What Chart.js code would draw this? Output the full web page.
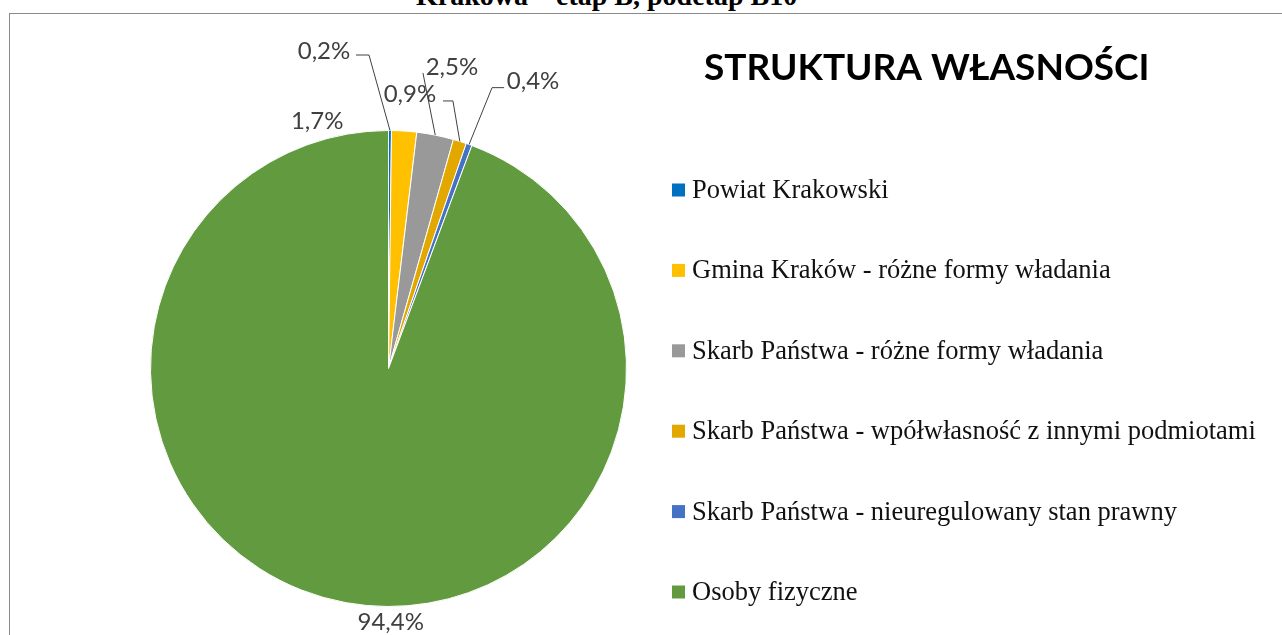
<!DOCTYPE html>
<html lang="pl">
<head>
<meta charset="utf-8">
<title>Struktura własności</title>
<script src="https://cdn.jsdelivr.net/npm/chart.js@4.4.1/dist/chart.umd.min.js"></script>
<style>
  html, body { margin: 0; padding: 0; background: #fff; overflow: hidden; }
  .page { position: relative; width: 1282px; height: 635px; overflow: hidden; }
  .header { position: absolute; left: 416px; top: -18px; font: bold 28px/28px "Liberation Serif", serif; white-space: pre; color: #000; }
  .frame { position: absolute; left: 9px; top: 13px; width: 1400px; height: 700px; border-left: 1px solid #8a8a8a; border-top: 1px solid #8a8a8a; }
  canvas { position: absolute; left: 0; top: 0; }
</style>
</head>
<body>
<div class="page">
  <div class="header">Krakowa – etap B, podetap B10</div>
  <div class="frame"></div>
  <canvas id="chart" width="1282" height="635"></canvas>
</div>
<script>
const chartTitle = 'STRUKTURA WŁASNOŚCI';
const categories = [
  'Powiat Krakowski',
  'Gmina Kraków - różne formy władania',
  'Skarb Państwa - różne formy władania',
  'Skarb Państwa - wpółwłasność z innymi podmiotami',
  'Skarb Państwa - nieuregulowany stan prawny',
  'Osoby fizyczne'
];
const shares = [0.2, 1.7, 2.5, 0.9, 0.4, 94.4];
const colors = ['#0070c0', '#ffc000', '#999999', '#e2a800', '#4472c4', '#629b3f'];

const shareLabels = shares.map(v => v.toFixed(1).replace('.', ',') + '%');

// where each percentage label sits, relative to the outer edge of its slice
const labelPlacement = [
  { dx: -66, dy: -79.5, leader: [[-34, -75.5], [-21, -75.5]] },
  { dx: -87, dy: -10, leader: null },
  { dx: 16.7, dy: -68.2, leader: [[-12.3, -62.2]] },
  { dx: -49.9, dy: -47.5, leader: [[-16.9, -40.5], [-6.9, -40.5]] },
  { dx: 64, dy: -62.9, leader: [[35, -56.9], [23, -56.9]] },
  { dx: 44.6, dy: 19.4, leader: null }
];

const pieLabels = {
  id: 'pieLabels',
  afterDatasetsDraw(chart) {
    const { ctx } = chart;
    const arcs = chart.getDatasetMeta(0).data;
    ctx.save();
    ctx.font = '24px Lato';
    ctx.fillStyle = '#404040';
    ctx.strokeStyle = '#404040';
    ctx.lineWidth = 1;
    ctx.textAlign = 'center';
    ctx.textBaseline = 'middle';
    arcs.forEach((arc, i) => {
      const { x, y, startAngle, endAngle, outerRadius } =
        arc.getProps(['x', 'y', 'startAngle', 'endAngle', 'outerRadius'], true);
      const mid = (startAngle + endAngle) / 2;
      const ax = x + Math.cos(mid) * outerRadius;
      const ay = y + Math.sin(mid) * outerRadius;
      const p = labelPlacement[i];
      if (p.leader) {
        ctx.beginPath();
        ctx.moveTo(ax + p.leader[0][0], ay + p.leader[0][1]);
        p.leader.slice(1).forEach(pt => ctx.lineTo(ax + pt[0], ay + pt[1]));
        ctx.lineTo(ax, ay);
        ctx.stroke();
      }
      ctx.fillText(shareLabels[i], ax + p.dx, ay + p.dy);
    });
    ctx.restore();
  }
};

const sideLegend = {
  id: 'sideLegend',
  afterDraw(chart) {
    const { ctx } = chart;
    const bg = chart.data.datasets[0].backgroundColor;
    ctx.save();
    ctx.textAlign = 'left';
    ctx.textBaseline = 'middle';
    ctx.fillStyle = '#000';
    ctx.font = 'bold 37px Lato';
    ctx.fillText(chartTitle, 704, 68);
    ctx.font = '26.5px "Liberation Serif"';
    chart.data.labels.forEach((label, i) => {
      const y = 190 + i * 80.4;
      ctx.fillStyle = bg[i];
      ctx.fillRect(672, y - 6.5, 13, 13);
      ctx.fillStyle = '#111';
      ctx.fillText(label, 692, y + 1);
    });
    ctx.restore();
  }
};

new Chart(document.getElementById('chart'), {
  type: 'pie',
  data: {
    labels: categories,
    datasets: [{
      data: shares,
      backgroundColor: colors,
      borderColor: '#ffffff',
      borderWidth: 1
    }]
  },
  options: {
    responsive: false,
    animation: false,
    layout: {
      padding: { left: 150, right: 655, top: 130, bottom: 28 }
    },
    plugins: {
      legend: { display: false },
      tooltip: { enabled: false }
    }
  },
  plugins: [pieLabels, sideLegend]
});
</script>
</body>
</html>
